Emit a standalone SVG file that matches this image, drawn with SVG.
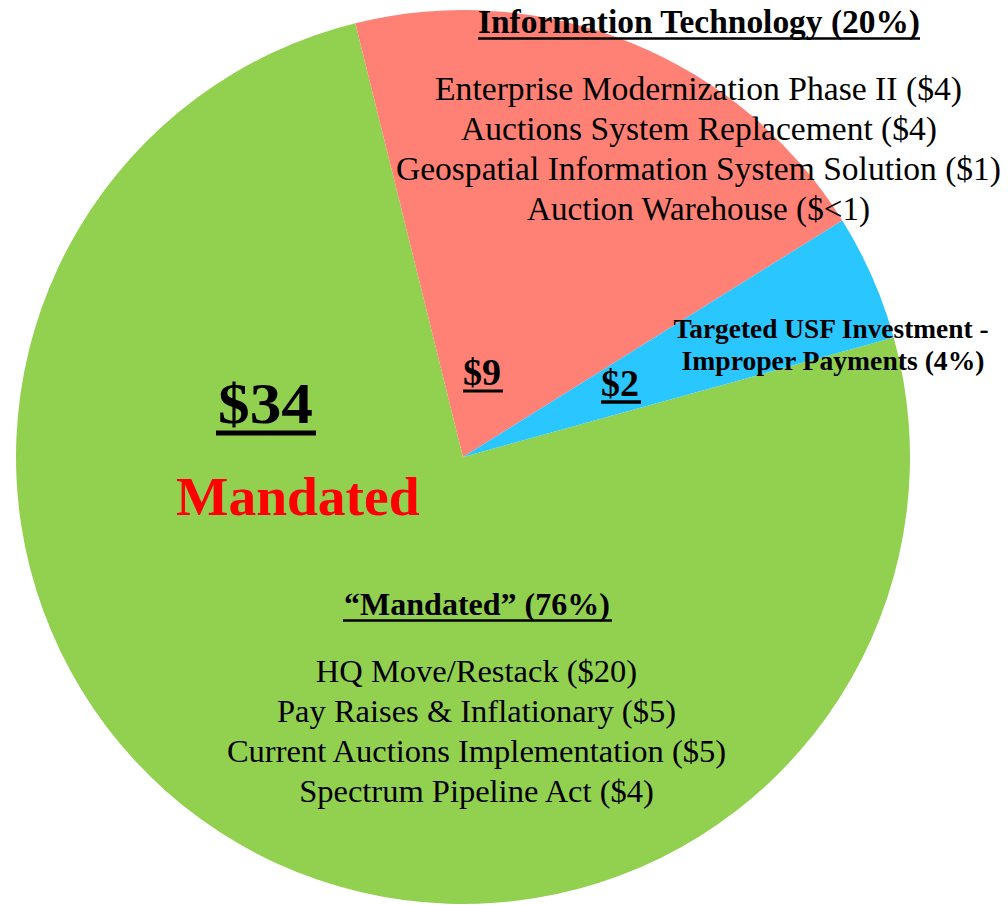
<svg xmlns="http://www.w3.org/2000/svg" width="1008" height="905" viewBox="0 0 1008 905">
<style>
.t{font-family:"Liberation Serif","Times New Roman",serif;fill:#000}
.b{font-weight:bold}
.c{text-anchor:middle}
.ul{stroke:#000}
</style>
<rect width="1008" height="905" fill="#fff"/>
<g id="slice-mandated">
<path d="M463,457 L893.7,337.4 A447,447 0 1,1 355.3,23.2 Z" fill="#92D050"/>
</g>
<g id="slice-it">
<path d="M463,457 L355.3,23.2 A447,447 0 0,1 842.3,220.5 Z" fill="#FF8074"/>
</g>
<g id="slice-usf">
<path d="M463,457 L842.3,220.5 A447,447 0 0,1 893.7,337.4 Z" fill="#29C6FF"/>
</g>
<g id="label-it">
<text class="t b c" x="699" y="33" font-size="33" textLength="442" lengthAdjust="spacingAndGlyphs">Information Technology (20%)</text>
<line class="ul" x1="478" y1="38.5" x2="920" y2="38.5" stroke-width="2.5"/>
<text class="t c" x="698.5" y="100" font-size="33.5" textLength="527" lengthAdjust="spacingAndGlyphs">Enterprise Modernization Phase II ($4)</text>
<text class="t c" x="699" y="140" font-size="33.5" textLength="476" lengthAdjust="spacingAndGlyphs">Auctions System Replacement ($4)</text>
<text class="t c" x="698.5" y="180" font-size="33.5" textLength="605" lengthAdjust="spacingAndGlyphs">Geospatial Information System Solution ($1)</text>
<text class="t c" x="698.5" y="220" font-size="33.5" textLength="343" lengthAdjust="spacingAndGlyphs">Auction Warehouse ($&lt;1)</text>
<text class="t b" x="463" y="385" font-size="38">$9</text>
<line class="ul" x1="463" y1="391" x2="503" y2="391" stroke-width="3"/>
</g>
<g id="label-usf">
<text class="t b" x="601" y="396" font-size="38">$2</text>
<line class="ul" x1="601" y1="402" x2="641" y2="402" stroke-width="3.5"/>
<text class="t b c" x="831" y="338" font-size="27.5" textLength="315" lengthAdjust="spacingAndGlyphs">Targeted USF Investment -</text>
<text class="t b c" x="833" y="370" font-size="27.5" textLength="303" lengthAdjust="spacingAndGlyphs">Improper Payments (4%)</text>
</g>
<g id="label-mandated">
<text class="t b" x="218" y="423" font-size="58" textLength="95" lengthAdjust="spacingAndGlyphs">$34</text>
<line class="ul" x1="216" y1="433" x2="316" y2="433" stroke-width="5"/>
<text class="t b" x="176" y="515" font-size="55.5" fill="#FF0000" style="fill:#FF0000">Mandated</text>
<text class="t b c" x="477" y="615" font-size="32">“Mandated” (76%)</text>
<line class="ul" x1="343" y1="620.5" x2="612" y2="620.5" stroke-width="2.5"/>
<text class="t c" x="476.5" y="682" font-size="32.5">HQ Move/Restack ($20)</text>
<text class="t c" x="476.5" y="722" font-size="32.5">Pay Raises &amp; Inflationary ($5)</text>
<text class="t c" x="476.5" y="762" font-size="32.5">Current Auctions Implementation ($5)</text>
<text class="t c" x="476.5" y="802" font-size="32.5">Spectrum Pipeline Act ($4)</text>
</g>
</svg>
